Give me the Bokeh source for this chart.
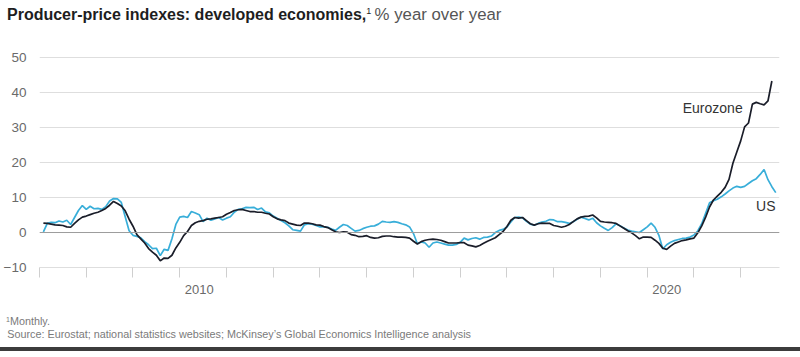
from bokeh.plotting import figure
from bokeh.layouts import column
from bokeh.models import Range1d, FixedTicker, Span, Div
from bokeh.core.properties import value
from bokeh.embed import file_html
from bokeh.resources import INLINE

# ---------------- data (monthly, % year over year) ----------------
start_year = 2007
eurozone = [  # Jan 2007 - Aug 2022
    2.7, 2.6, 2.4, 2.2, 2.1, 2.0, 1.6, 1.5, 2.6, 3.6, 4.4, 4.7,
    5.1, 5.5, 5.8, 6.3, 6.9, 7.8, 8.9, 8.3, 7.6, 6.2, 3.8, 1.8,
    -0.6, -1.8, -3.0, -4.6, -5.6, -6.5, -8.1, -7.3, -7.4, -6.5, -4.4, -2.8,
    -0.9, 0.3, 2.0, 2.8, 3.2, 3.4, 3.8, 3.9, 4.1, 4.3, 4.5, 5.2,
    5.7, 6.3, 6.5, 6.6, 6.3, 6.0, 6.0, 5.8, 5.8, 5.5, 5.3, 4.5,
    3.9, 3.6, 3.4, 2.7, 2.4, 2.1, 2.0, 2.7, 2.7, 2.5, 2.2, 2.1,
    1.7, 1.4, 0.8, 0.2, 0.0, 0.2, 0.1, -0.6, -0.8, -1.2, -1.1, -0.9,
    -1.4, -1.6, -1.5, -1.1, -1.0, -1.0, -1.2, -1.3, -1.3, -1.4, -1.6, -2.5,
    -3.3, -2.6, -2.2, -2.0, -1.9, -2.0, -2.2, -2.6, -3.0, -3.0, -3.0, -2.9,
    -2.9, -3.6, -3.8, -4.1, -3.7, -3.1, -2.5, -2.0, -1.5, -0.6, 0.3, 1.7,
    3.5, 4.3, 4.1, 4.3, 3.4, 2.5, 2.1, 2.5, 2.7, 2.6, 2.6, 2.0,
    1.8, 1.5, 1.8, 2.3, 3.1, 3.9, 4.4, 4.6, 4.7, 5.0, 4.2, 3.2,
    3.0, 2.9, 2.8, 2.6, 1.9, 1.2, 0.5, -0.1, -0.9, -1.8, -1.3, -1.3,
    -1.4, -2.2, -3.1, -4.5, -4.8, -3.9, -3.1, -2.7, -2.3, -2.1, -1.8, -1.6,
    -0.1, 1.9, 4.4, 7.3, 9.3, 10.4, 11.5, 12.9, 15.2, 19.8, 23.0, 26.2,
    30.2, 31.3, 36.7, 37.2, 36.8, 36.5, 37.6, 43.3,
]
us = [  # Jan 2007 - Sep 2022
    0.2, 2.6, 2.9, 2.8, 3.3, 3.0, 3.5, 2.3, 4.3, 6.3, 7.7, 6.6,
    7.5, 6.8, 6.9, 6.6, 7.4, 9.0, 9.7, 9.6, 8.6, 4.5, 0.5, -0.8,
    -1.1, -1.5, -2.6, -3.5, -4.6, -4.5, -6.6, -4.8, -5.1, -1.8, 2.3, 4.4,
    4.6, 4.3, 6.0, 5.6, 5.1, 3.1, 4.1, 3.5, 3.9, 4.3, 3.6, 4.1,
    4.5, 5.8, 6.6, 6.8, 7.2, 7.1, 7.2, 6.6, 7.0, 5.9, 5.6, 4.7,
    4.1, 3.4, 2.8, 1.9, 0.8, 0.6, 0.4, 2.2, 2.5, 2.4, 2.0, 1.6,
    1.6, 1.5, 1.0, 0.6, 1.5, 2.3, 2.0, 1.2, 0.4, 0.6, 1.1, 1.5,
    1.8, 1.9, 2.4, 3.2, 3.0, 2.9, 3.1, 2.9, 2.5, 2.2, 1.6, -0.3,
    -3.2, -2.7, -3.0, -4.2, -3.0, -2.7, -3.0, -3.3, -3.6, -3.6, -3.4, -2.8,
    -1.6, -2.1, -1.7, -1.5, -1.9, -1.4, -1.3, -1.0, 0.0, 0.6, 0.9, 1.6,
    3.0, 4.3, 4.4, 4.2, 3.2, 2.4, 2.1, 2.6, 3.0, 3.2, 3.7, 3.6,
    3.1, 3.1, 2.9, 2.6, 3.1, 3.8, 4.4, 4.0, 3.6, 4.1, 2.8, 1.9,
    1.2, 0.6, 1.4, 2.5, 1.9, 1.3, 0.7, 0.4, 0.2, 0.0, 0.8, 1.6,
    2.7, 1.5, -0.8, -4.7, -3.5, -2.8, -2.3, -2.0, -1.7, -1.6, -1.3, -0.7,
    0.5, 2.5, 5.5, 8.5, 9.1, 9.5, 10.2, 11.0, 11.9, 12.7, 13.2, 12.9,
    13.2, 14.0, 14.8, 15.4, 16.6, 18.0, 15.1, 13.1, 11.4,
]
y_ticks = [-10, 0, 10, 20, 30, 40, 50]
year_ticks = list(range(2007, 2023))
labeled_years = [2010, 2020]
series_names = ["Eurozone", "US"]
title_main = "Producer-price indexes: developed economies,"
title_unit = "% year over year"
footnote = "Monthly."
source = "Source: Eurostat; national statistics websites; McKinsey\u2019s Global Economics Intelligence analysis"


def month_x(n):
    return [start_year + (i + 1) / 12 for i in range(n)]


x_eu = month_x(len(eurozone))
x_us = month_x(len(us))

FONT = "Liberation Sans"
GRID = "#dedede"
# year labels sit just right of their tick: pad the centred label on the left
LABEL_PAD = "\u2002" * 6

p = figure(width=800, height=260, output_backend="svg", toolbar_location=None,
           x_range=Range1d(2007, 2022.83), y_range=Range1d(-10, 50.6),
           min_border_left=35, min_border_right=21, min_border_top=10,
           min_border_bottom=38, background_fill_color="white",
           border_fill_color="white", margin=(0, 0, 0, 0))
p.outline_line_color = None
p.xgrid.visible = False
p.ygrid.ticker = FixedTicker(ticks=y_ticks)
p.ygrid.grid_line_color = GRID

ya = p.yaxis[0]
ya.ticker = FixedTicker(ticks=y_ticks)
ya.axis_line_color = None
ya.major_tick_line_color = None
ya.minor_tick_line_color = None
ya.major_label_standoff = 7
ya.major_label_text_font = FONT
ya.major_label_text_font_size = "13.5px"
ya.major_label_text_color = "#6a6a6a"
ya.major_label_overrides = {t: ("\u2212" + str(-t) if t < 0 else str(t)) for t in y_ticks}

xa = p.xaxis[0]
xa.ticker = FixedTicker(ticks=year_ticks)
xa.axis_line_color = GRID
xa.major_tick_line_color = "#cfcfcf"
xa.major_tick_out = 10
xa.major_tick_in = 0
xa.minor_tick_line_color = None
xa.major_label_standoff = 4
xa.major_label_text_font = FONT
xa.major_label_text_font_size = "13px"
xa.major_label_text_color = "#6a6a6a"
xa.major_label_overrides = {t: (LABEL_PAD + str(t) if t in labeled_years else "") for t in year_ticks}

p.add_layout(Span(location=0, dimension="width", line_color="#9c9c9c", line_width=1))

p.line(x_us, us, line_color="#38aed9", line_width=1.7)
p.line(x_eu, eurozone, line_color="#1a1d29", line_width=1.7)

p.text(x=[2020.76], y=[35.6], text=[series_names[0]], text_font=value(FONT),
       text_font_size="14px", text_color="#333333", text_align="left",
       text_baseline="middle")
p.text(x=[2022.745], y=[7.5], text=[series_names[1]], text_font=value(FONT),
       text_font_size="14px", text_color="#333333", text_align="right",
       text_baseline="middle")

title_html = (
    '<div style="position:relative;width:800px;height:45px;font-family:\'Liberation Sans\',sans-serif;">'
    '<div style="position:absolute;left:7px;top:5px;line-height:20px;white-space:nowrap;">'
    f'<span style="font-weight:bold;font-size:16px;color:#1e1e1e;">{title_main}</span>'
    '<span style="font-size:9px;color:#1e1e1e;position:relative;top:-6px;">1</span> '
    f'<span style="font-size:16.8px;color:#555555;">{title_unit}</span></div></div>'
)
foot_html = (
    '<div style="position:relative;width:800px;height:52px;font-family:\'Liberation Sans\',sans-serif;'
    'font-size:10.8px;color:#7a7a7a;line-height:13px;">'
    '<div style="position:absolute;left:6px;top:9.5px;white-space:nowrap;">'
    f'<span style="font-size:7px;position:relative;top:-3px;">1</span>{footnote}</div>'
    f'<div style="position:absolute;left:7.3px;top:22.5px;white-space:nowrap;">{source}</div>'
    '<div style="position:absolute;left:0;top:42px;width:800px;height:4px;background:#3c3c3c;"></div>'
    '</div>'
)
title_div = Div(text=title_html, width=800, height=45, margin=(0, 0, 0, 0))
foot_div = Div(text=foot_html, width=800, height=52, margin=(0, 0, 0, 0))

layout = column(title_div, p, foot_div, spacing=0, margin=(0, 0, 0, 0))

open("out.html", "w").write(file_html(layout, INLINE))
